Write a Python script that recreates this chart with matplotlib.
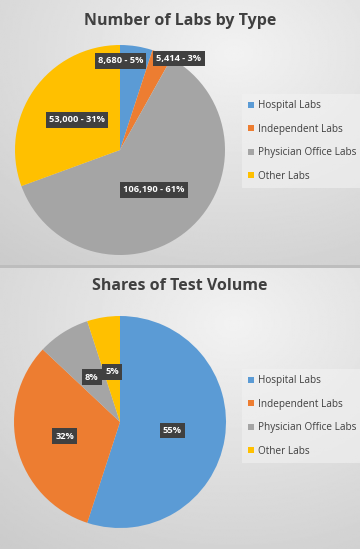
import numpy as np
import matplotlib
matplotlib.use("Agg")
import matplotlib.pyplot as plt

# data
categories = ["Hospital Labs", "Independent Labs", "Physician Office Labs", "Other Labs"]
lab_counts = [8680, 5414, 106190, 53000]
volume_share = [55, 32, 8, 5]

colors = ["#5B9BD5", "#ED7D31", "#A5A5A5", "#FFC000"]
text_col = "#404040"

plt.rcParams["font.family"] = ["Open Sans", "DejaVu Sans"]

W, H = 360, 549
fig = plt.figure(figsize=(W / 100, H / 100), dpi=100)


def px_rect(x, y, w, h):
    # pixel box (top-left origin) -> figure fraction
    return [x / W, 1 - (y + h) / H, w / W, h / H]


def background(rect):
    ax = fig.add_axes(rect)
    yy, xx = np.mgrid[0:1:200j, 0:1:200j]
    d = np.sqrt(((xx - 0.65) / 1.0) ** 2 + ((yy - 0.2) / 1.0) ** 2)
    d = np.clip(d, 0, 1)
    img = 0.95 - 0.15 * d
    ax.imshow(img, cmap="gray", vmin=0, vmax=1, aspect="auto",
              extent=[0, 1, 1, 0])
    ax.set_axis_off()


def draw_pie(rect, values, labels, title, title_rect, label_r, label_dx, leg_rect):
    ax = fig.add_axes(rect)
    wedges, _ = ax.pie(values, colors=colors, startangle=90, counterclock=False,
                       wedgeprops=dict(linewidth=0))
    ax.set_xlim(-1, 1)
    ax.set_ylim(-1, 1)
    for w, lab, r, dx in zip(wedges, labels, label_r, label_dx):
        mid = np.deg2rad((w.theta1 + w.theta2) / 2)
        ax.text(r * np.cos(mid) + dx, r * np.sin(mid), lab, ha="center", va="center",
                color="white", fontsize=6.7, fontweight="bold",
                bbox=dict(boxstyle="square,pad=0.35", fc="#404040", ec="none"))
    tax = fig.add_axes(title_rect)
    tax.set_axis_off()
    tax.text(0.5, 0.5, title, ha="center", va="center", fontsize=11.5,
             fontweight="bold", color=text_col)
    leg = fig.legend(wedges, categories, loc="center left",
                     bbox_to_anchor=(leg_rect[0], leg_rect[1]),
                     fontsize=7.2, frameon=True, handlelength=0.6, handleheight=0.6,
                     handletextpad=0.35, labelspacing=1.25, borderpad=0.6,
                     borderaxespad=0, fancybox=False, labelcolor=text_col)
    leg.get_frame().set_facecolor("#f2f2f2")
    leg.get_frame().set_edgecolor("none")
    leg.get_frame().set_alpha(0.6)


# panel backgrounds
background(px_rect(0, 0, 360, 266))
background(px_rect(0, 267, 360, 282))
sep = fig.add_axes(px_rect(0, 265, 360, 3))
sep.set_axis_off()
sep.add_patch(plt.Rectangle((0, 0), 1, 1, color="#bdbdbd"))

# top: number of labs
total = sum(lab_counts)
top_labels = [f"{v:,} - {round(100 * v / total)}%" for v in lab_counts]
draw_pie(px_rect(15, 45, 210, 210), lab_counts, top_labels,
         "Number of Labs by Type", px_rect(0, 8, 360, 26),
         label_r=[0.86, 0.95, 0.5, 0.5], label_dx=[-0.13, 0.18, 0, 0],
         leg_rect=(242 / W, 1 - 141 / H))

# bottom: shares of test volume
bot_labels = [f"{v}%" for v in volume_share]
draw_pie(px_rect(14, 316, 212, 212), volume_share, bot_labels,
         "Shares of Test Volume", px_rect(0, 273, 360, 26),
         label_r=[0.5, 0.54, 0.5, 0.48], label_dx=[0, 0, 0, 0],
         leg_rect=(242 / W, 1 - 416 / H))

fig.savefig("out.png", dpi=100)
